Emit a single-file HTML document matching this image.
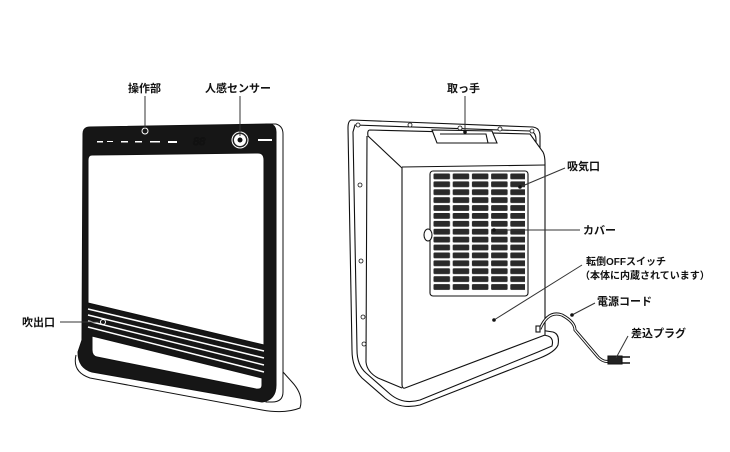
<!DOCTYPE html>
<html><head><meta charset="utf-8"><style>
html,body{margin:0;padding:0;background:#fff;}
svg{display:block}
text{font-family:"Liberation Sans","Noto Sans CJK JP",sans-serif;font-weight:bold;fill:#111;}
</style></head><body>
<svg width="730" height="452" viewBox="0 0 730 452" xmlns="http://www.w3.org/2000/svg">
<defs>
<pattern id="gr" x="433" y="173" width="19.2" height="7.9" patternUnits="userSpaceOnUse">
<rect x="0.5" y="0.5" width="16.5" height="5.8" rx="1" fill="#2a2a2a"/>
</pattern>
</defs>
<g stroke="#111" fill="none" stroke-width="1">
<!-- FRONT heater -->
<path d="M76,355 Q72,372 90,378 L262,410 Q285,414 300,408 Q304,395 292,382 L283,372" fill="#fff"/>
<path d="M266,124 L276,124 Q283,126 283,134 L283,392 Q283,402 272,402 L266,402 Z" fill="#fff"/>
<path d="M90,127 L268,124 Q276,124 276,132 L276,385 Q276,400 262,402 L92,372 Q78,368 78,352 L82,340 L83,134 Q83,127 90,127 Z" fill="#161616"/>
<path d="M92,155 L258,153 Q264,153 264,160 L264,345 L88,303 L88,160 Q88,155 92,155 Z" fill="#fff"/>
<path d="M88,309 L264,351 M88,315 L264,358 M88,321 L264,365 M88,327 L264,372" stroke="#fff" stroke-width="1.5"/>
<path d="M92,336 L262,378 L262,385 Q262,390 256,389 L97,357 Q92,356 92,350 Z" fill="#fff"/>
<circle cx="240" cy="140" r="8" fill="#222" stroke="#fff"/>
<circle cx="240" cy="140" r="5.5" fill="#fff" stroke="#fff"/>
<circle cx="240" cy="140" r="2.5" fill="#111" stroke="none"/>
<circle cx="145" cy="131" r="3" stroke="#fff"/>
<text x="193" y="145" font-size="11" style="fill:#fff;font-style:italic;font-weight:normal">88</text>
</g>
<g fill="#fff">
<rect x="97" y="141" width="6" height="1.5"/><rect x="107" y="141" width="6" height="1"/><rect x="121" y="141" width="7" height="1.5"/><rect x="135" y="141" width="7" height="1.5"/><rect x="150" y="141" width="10" height="1.5"/><rect x="168" y="141" width="9" height="2"/>
<rect x="258" y="139" width="14" height="2"/>
</g>
<!-- BACK heater -->
<g stroke="#111" fill="none" stroke-width="1.1">
<path d="M352,120 L533,127 Q540,128 540,136 L540,330 L553,332 Q560,334 558,345 Q555,352 540,358 L420,405 Q400,410 385,398 L362,378 Q352,368 352,350 L348,128 Q348,120 352,120 Z" fill="#fff"/>
<path d="M355,125 L530,131 Q536,132 536,140 L536,333 L548,336 Q554,338 552,346 L538,352 L420,400 Q403,405 390,394 L366,373 Q357,365 357,350 L353,132 Z"/>
<path d="M370,130 L530,134 L543,152 Q545,156 545,163 L545,335 L405,388 Q402,389 402,384 L402,168 L368,136 Q367,130 370,130 Z" fill="#fff"/>
<path d="M367,136 L366,362 Q367,372 378,378 L402,388"/>
<path d="M402,167 L545,165"/>
<path d="M432,130 L437,143 L497,143 L492,131 Z" fill="#fff"/>
<path d="M440,134 L486,134 L488,143" />
<rect x="430" y="171" width="98" height="125" rx="3" fill="#fff"/>
<rect x="433" y="173" width="92" height="119" fill="url(#gr)" stroke="none"/>
<ellipse cx="428" cy="235" rx="4" ry="6" fill="#fff"/>
<g stroke-width="0.8" fill="#fff">
<circle cx="358" cy="125" r="2"/><circle cx="410" cy="125" r="2"/><circle cx="460" cy="128" r="2"/><circle cx="500" cy="129" r="2"/><circle cx="532" cy="131" r="2"/>
<circle cx="360" cy="185" r="2"/><circle cx="361" cy="261" r="2"/><circle cx="363" cy="317" r="2"/><circle cx="364" cy="344" r="2"/>
</g>
<path d="M540,329 Q548,310 562,315 Q575,322 575,330 L598,357 Q605,364 612,360" stroke-width="3"/>
<path d="M540,329 Q548,310 562,315 Q575,322 575,330 L598,357 Q605,364 612,360" stroke="#fff" stroke-width="1.2"/>
<path d="M608,356 L622,356 L622,364 L608,364 Z" fill="#222"/>
<path d="M622,357 L630,357 M622,363 L630,363" stroke-width="1.5"/>
<rect x="536" y="326" width="4" height="6" fill="#fff"/>
</g>
<g stroke="#333" stroke-width="1">
<line x1="145" y1="96" x2="145" y2="128"/>
<line x1="240" y1="96" x2="240" y2="136"/>
<line x1="60" y1="322" x2="101" y2="322"/>
<line x1="465" y1="96" x2="465" y2="131"/>
<line x1="565" y1="168" x2="520" y2="187"/>
<line x1="580" y1="230" x2="494" y2="230"/>
<line x1="582" y1="265" x2="494" y2="320"/>
<line x1="595" y1="303" x2="572" y2="315"/>
<line x1="628" y1="336" x2="616" y2="358"/>
</g>
<g fill="#111">
<circle cx="465" cy="132" r="1.8"/><circle cx="520" cy="187" r="1.8"/><circle cx="494" cy="230" r="1.8"/><circle cx="494" cy="320" r="1.8"/><circle cx="572" cy="315" r="1.8"/>
</g>
<circle cx="103" cy="322" r="2.5" fill="none" stroke="#fff"/>
<g font-size="11">
<text x="128" y="92">操作部</text>
<text x="205" y="92">人感センサー</text>
<text x="22" y="326">吹出口</text>
<text x="447" y="92">取っ手</text>
<text x="567" y="170">吸気口</text>
<text x="583" y="234">カバー</text>
<text x="586" y="265" font-size="10">転倒OFFスイッチ</text>
<text x="580" y="279" font-size="10">（本体に内蔵されています）</text>
<text x="597" y="305">電源コード</text>
<text x="631" y="337">差込プラグ</text>
</g>
</svg>
</body></html>
